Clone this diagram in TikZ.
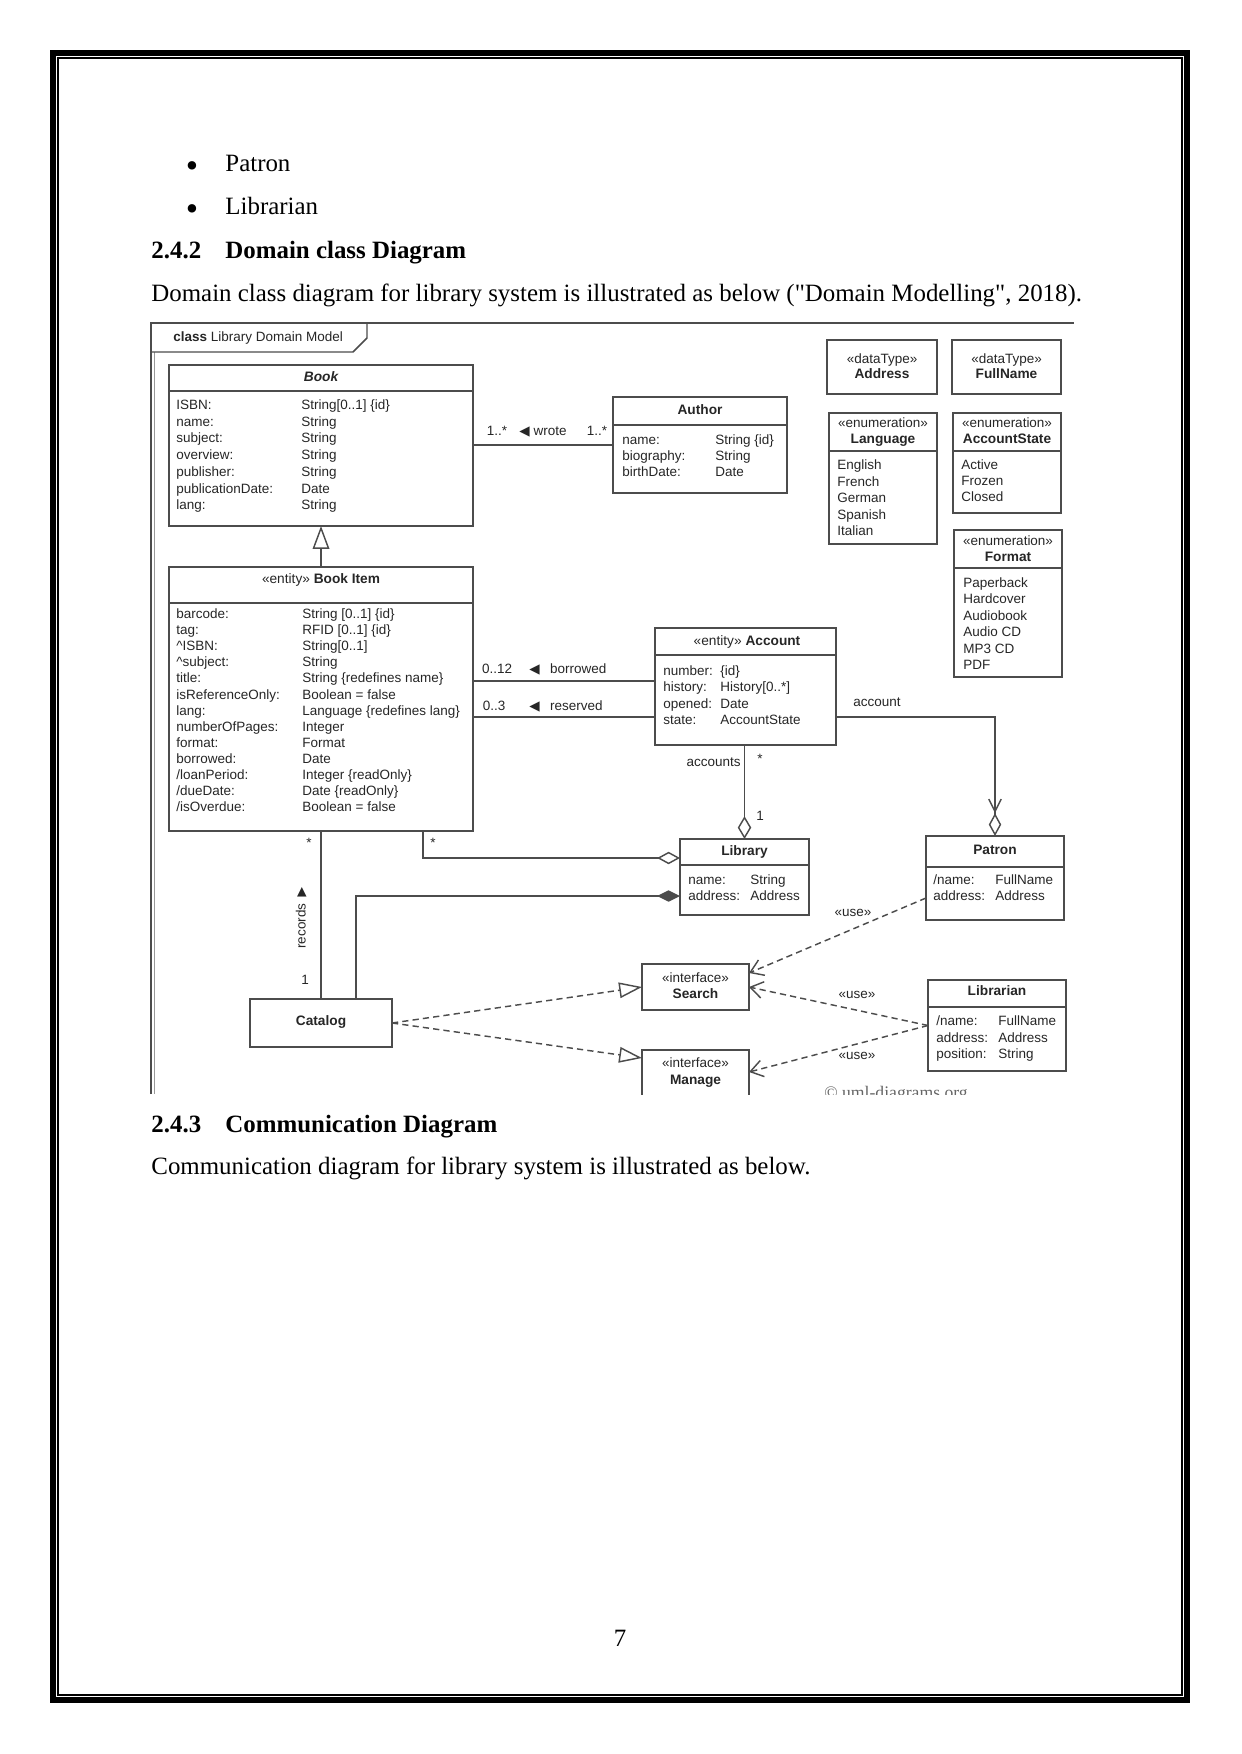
\documentclass[tikz,border=0pt]{standalone}
\usepackage{fontspec}
\setmainfont{Liberation Serif}
\newfontfamily\umlfont{Liberation Sans}
\newfontfamily\symfont{DejaVu Sans}
\usetikzlibrary{arrows.meta}

\definecolor{linec}{gray}{0.3}
\definecolor{txtc}{gray}{0.15}

\tikzset{
  cls/.style 2 args={draw=linec, line width=0.8pt, inner sep=0pt, outer sep=0pt,
    minimum width=#1*0.4818pt, minimum height=#2*0.4818pt},
  uml/.style={font=\umlfont\fontsize{6.5}{8}\selectfont, text=txtc, inner sep=0pt,
    text height=4.7pt, text depth=1.3pt},
  attr/.style={uml, anchor=west},
  ttl/.style={uml, font=\umlfont\bfseries\fontsize{6.6}{8}\selectfont},
  lnc/.style={draw=linec, line width=0.7pt},
  usedep/.style={lnc, dash pattern=on 3pt off 2pt, -{Straight Barb[length=6pt, width=8pt]}},
  realiz/.style={lnc, dash pattern=on 3pt off 2pt, -{Triangle[open, length=11pt, width=7.5pt]}},
  pagetxt/.style={font=\fontsize{12}{14}\selectfont, inner sep=0pt, anchor=base west},
  headtxt/.style={pagetxt, font=\fontsize{12}{14}\selectfont\bfseries},
}

\begin{document}
\begin{tikzpicture}[x=0.4818pt, y=-0.4818pt]
\useasboundingbox (0,0) rectangle (1241,1754);

% page border
\draw[line width=2.9pt] (53,53) rectangle (1187,1700);
\draw[line width=0.6pt] (58,58) rectangle (1182,1695);

% text of the page
\node[pagetxt, anchor=center, font=\fontsize{17}{14}\selectfont] (bul1) at (192,170) {\textbullet};
\node[pagetxt] (patrontxt) at (225,172) {Patron};
\node[pagetxt, anchor=center, font=\fontsize{17}{14}\selectfont] (bul2) at (192,213) {\textbullet};
\node[pagetxt] (librariantxt) at (225,215) {Librarian};
\node[headtxt] (secnum1) at (151,259) {2.4.2};
\node[headtxt] (sectitle1) at (225,259) {Domain class Diagram};
\node[pagetxt] (intro1) at (151,302) {Domain class diagram for library system is illustrated as below (\textquotedbl Domain Modelling\textquotedbl, 2018).};
\node[headtxt] (secnum2) at (151,1132) {2.4.3};
\node[headtxt] (sectitle2) at (225,1132) {Communication Diagram};
\node[pagetxt] (intro2) at (151,1174) {Communication diagram for library system is illustrated as below.};
\node[pagetxt, anchor=base] (pagenum) at (620,1646) {7};

\begin{scope}
\clip (140,318) rectangle (1076,1094);

% diagram frame
\draw[draw=linec, line width=0.8pt] (151,1094) -- (151,323) -- (1074,323);
\draw[draw=black!40, line width=0.5pt] (154.5,352) -- (154.5,1094);
\draw[draw=linec, line width=0.7pt] (151,352) -- (353,352) -- (367,338) -- (367,323);
\node[uml, anchor=west] (frametitle) at (173,338) {\textbf{class} Library Domain Model};

% Book
\node[cls={304}{161}] (book) at (321,445.5) {};
\draw[lnc] (book.west |- 0,391) -- (book.east |- 0,391);
\node[ttl] (book-t) at (321,378) {\itshape Book};
\foreach \a/\t [count=\i from 0] in {ISBN:/String[0..1] \{id\}, name:/String,
    subject:/String, overview:/String, publisher:/String,
    publicationDate:/Date, lang:/String}{
  \node[attr] (bk-a\i) at (176,406+16.7*\i) {\a};
  \node[attr] (bk-t\i) at (301,406+16.7*\i) {\t};
}

% Book Item
\node[cls={304}{264}] (bookitem) at (321,699) {};
\draw[lnc] (bookitem.west |- 0,603) -- (bookitem.east |- 0,603);
\node[ttl] (bookitem-t) at (321,580) {\textmd{«entity»} Book Item};
\foreach \a/\t [count=\i from 0] in {barcode:/String [0..1] \{id\},
    tag:/RFID [0..1] \{id\}, \textasciicircum ISBN:/String[0..1],
    \textasciicircum subject:/String, title:/String \{redefines name\},
    isReferenceOnly:/Boolean = false, lang:/Language \{redefines lang\},
    numberOfPages:/Integer, format:/Format, borrowed:/Date,
    {/loanPeriod:}/Integer \{readOnly\}, {/dueDate:}/Date \{readOnly\},
    {/isOverdue:}/Boolean = false}{
  \node[attr] (bi-a\i) at (176,615+16.1*\i) {\a};
  \node[attr] (bi-t\i) at (302,615+16.1*\i) {\t};
}

% Author
\node[cls={174}{96}] (author) at (700,445) {};
\draw[lnc] (author.west |- 0,425) -- (author.east |- 0,425);
\node[ttl] (author-t) at (700,411) {Author};
\foreach \a/\t [count=\i from 0] in {name:/String \{id\}, biography:/String, birthDate:/Date}{
  \node[attr] (au-a\i) at (622,441+16*\i) {\a};
  \node[attr] (au-t\i) at (715,441+16*\i) {\t};
}

% Account
\node[cls={181}{117}] (account) at (745.5,686.5) {};
\draw[lnc] (account.west |- 0,655) -- (account.east |- 0,655);
\node[ttl] (account-t) at (747,642) {\textmd{«entity»} Account};
\foreach \a/\t [count=\i from 0] in {number:/\{id\}, history:/History[0..*],
    opened:/Date, state:/AccountState}{
  \node[attr] (ac-a\i) at (663,672+16.3*\i) {\a};
  \node[attr] (ac-t\i) at (720,672+16.3*\i) {\t};
}

% Library
\node[cls={129}{76}] (library) at (744.5,877) {};
\draw[lnc] (library.west |- 0,865) -- (library.east |- 0,865);
\node[ttl] (library-t) at (744.5,852) {Library};
\foreach \a/\t [count=\i from 0] in {name:/String, address:/Address}{
  \node[attr] (li-a\i) at (688,881+16*\i) {\a};
  \node[attr] (li-t\i) at (750,881+16*\i) {\t};
}

% Patron
\node[cls={138}{84}] (patron) at (995,878) {};
\draw[lnc] (patron.west |- 0,867) -- (patron.east |- 0,867);
\node[ttl] (patron-t) at (995,851) {Patron};
\foreach \a/\t [count=\i from 0] in {{/name:}/FullName, address:/Address}{
  \node[attr] (pa-a\i) at (933,881+16*\i) {\a};
  \node[attr] (pa-t\i) at (995,881+16*\i) {\t};
}

% Librarian
\node[cls={138}{91}] (librarian) at (997,1025.5) {};
\draw[lnc] (librarian.west |- 0,1007) -- (librarian.east |- 0,1007);
\node[ttl] (librarian-t) at (997,992) {Librarian};
\foreach \a/\t [count=\i from 0] in {{/name:}/FullName, address:/Address, position:/String}{
  \node[attr] (lb-a\i) at (936,1022+16.5*\i) {\a};
  \node[attr] (lb-t\i) at (998,1022+16.5*\i) {\t};
}

% Catalog and interfaces
\node[cls={142}{48}] (catalog) at (321,1023) {};
\node[ttl] (catalog-t) at (321,1022) {Catalog};
\node[cls={107}{46}] (search) at (695.5,987) {};
\node[uml] (search-s) at (695.5,979) {«interface»};
\node[ttl] (search-t) at (695.5,995) {Search};
\node[cls={107}{48}] (manage) at (695.5,1074) {};
\node[uml] (manage-s) at (695.5,1064) {«interface»};
\node[ttl] (manage-t) at (695.5,1081) {Manage};

% data types
\node[cls={110}{54}] (address) at (882,367) {};
\node[uml] (address-s) at (882,360) {«dataType»};
\node[ttl] (address-t) at (882,375) {Address};
\node[cls={109}{54}] (fullname) at (1006.5,367) {};
\node[uml] (fullname-s) at (1006.5,360) {«dataType»};
\node[ttl] (fullname-t) at (1006.5,375) {FullName};

% enumerations
\node[cls={108}{131}] (language) at (883,478.5) {};
\draw[lnc] (language.west |- 0,451) -- (language.east |- 0,451);
\node[uml] (language-s) at (883,424) {«enumeration»};
\node[ttl] (language-t) at (883,440) {Language};
\foreach \v [count=\i from 0] in {English, French, German, Spanish, Italian}
  \node[attr] (lg\i) at (837,466+16.5*\i) {\v};

\node[cls={108}{100}] (accstate) at (1007,463) {};
\draw[lnc] (accstate.west |- 0,451) -- (accstate.east |- 0,451);
\node[uml] (accstate-s) at (1007,424) {«enumeration»};
\node[ttl] (accstate-t) at (1007,440) {AccountState};
\foreach \v [count=\i from 0] in {Active, Frozen, Closed}
  \node[attr] (as\i) at (961,466+16*\i) {\v};

\node[cls={108}{147}] (format) at (1008,603.5) {};
\draw[lnc] (format.west |- 0,568) -- (format.east |- 0,568);
\node[uml] (format-s) at (1008,542) {«enumeration»};
\node[ttl] (format-t) at (1008,558) {Format};
\foreach \v [count=\i from 0] in {Paperback, Hardcover, Audiobook, Audio CD, MP3 CD, PDF}
  \node[attr] (fm\i) at (963,584+16.4*\i) {\v};

% associations
\draw[lnc, -{Triangle[open, length=11pt, width=8pt]}] (bookitem.north) -- (book.south);
\draw[lnc] (book.east |- author.west) -- (author.west);
\node[uml] (wrote-m1) at (497,432) {1..*};
\node[uml, anchor=west] (wrote-l) at (519,432) {{\symfont ◀} wrote};
\node[uml] (wrote-m2) at (597,432) {1..*};

\draw[lnc] (bookitem.east |- 0,681) -- (account.west |- 0,681);
\node[uml] (borrow-m) at (497,670) {0..12};
\node[uml, anchor=west] (borrow-l) at (529,670) {{\symfont ◀}\hspace{5pt}borrowed};
\draw[lnc] (bookitem.east |- 0,717) -- (account.west |- 0,717);
\node[uml] (reserve-m) at (494,707) {0..3};
\node[uml, anchor=west] (reserve-l) at (529,707) {{\symfont ◀}\hspace{5pt}reserved};

\draw[lnc, -{Straight Barb[length=6pt, width=6pt] Diamond[open, length=11pt, width=6pt]}]
  (account.east |- 0,717) -| (patron.north);
\node[uml, anchor=west] (account-r) at (853,703) {account};

\draw[lnc, -{Diamond[open, length=11pt, width=6.5pt]}] (library.north |- account.south) -- (library.north);
\node[uml, anchor=east] (accounts-r) at (741,763) {accounts};
\node[uml] (accounts-m) at (760,760) {*};
\node[uml] (library-m) at (760,817) {1};

\draw[lnc, -{Diamond[open, length=11pt, width=6pt]}] (bookitem.south -| 423,0) |- (library.west |- 0,858);
\node[uml] (bi-lib-m) at (433,844) {*};
\draw[lnc, -{Diamond[fill=linec, length=11pt, width=5.5pt]}] (catalog.north -| 356,0) |- (library.west |- 0,896);

\draw[lnc] (bookitem.south) -- (catalog.north);
\node[uml] (records-m1) at (309,844) {*};
\node[uml, text=txtc, font=\symfont\fontsize{6}{8}\selectfont] (records-a) at (302,892) {▲};
\node[uml, rotate=90] (records-l) at (302,926) {records};
\node[uml] (records-m2) at (305,981) {1};

% realizations and usages
\draw[realiz] (catalog.east) -- (search.west);
\draw[realiz] (catalog.east) -- (manage.west |- 0,1058);
\draw[usedep] (patron.west |- 0,898) -- (search.east |- 0,973);
\draw[usedep] (librarian.west) -- (search.east);
\draw[usedep] (librarian.west) -- (manage.east |- 0,1072);
\node[uml] (use1) at (853,913) {«use»};
\node[uml] (use2) at (857,995) {«use»};
\node[uml] (use3) at (857,1056) {«use»};

\node[font=\fontsize{8.5}{10}\selectfont, text=black!60, inner sep=0pt] (copy) at (896,1094) {© uml-diagrams.org};
\end{scope}
\end{tikzpicture}
\end{document}
